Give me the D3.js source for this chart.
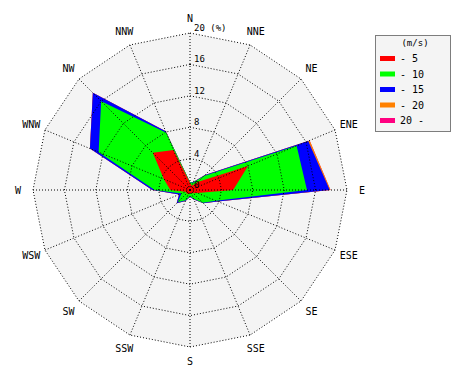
<!DOCTYPE html>
<html>
<head>
<meta charset="utf-8">
<script src="https://cdn.jsdelivr.net/npm/d3@7"></script>
<style>
  body { margin: 0; background: #fff; }
  svg { display: block; }
  text { font-family: "DejaVu Sans Mono", monospace; font-size: 10px; fill: #000; }
</style>
</head>
<body>
<svg id="rose" width="470" height="380"></svg>
<script>
// wind directions, clockwise from north
var directions = ["N", "NNE", "NE", "ENE", "E", "ESE", "SE", "SSE",
                  "S", "SSW", "SW", "WSW", "W", "WNW", "NW", "NNW"];

// frequency (%) per speed class and direction
var upTo5   = [0.9, 0.6, 1.5, 8.0, 5.5, 1.0, 0.6, 0.4, 0.4, 0.6, 0.6, 0.6, 2.5, 3.6, 6.7, 5.5];
var upTo10  = [0.1, 0.4, 1.0, 6.7, 9.4, 2.6, 1.7, 0.8, 0.4, 0.8, 1.6, 0.6, 2.0, 9.0, 9.3, 2.4];
var upTo15  = [0.0, 0.1, 0.2, 1.6, 2.9, 0.2, 0.1, 0.1, 0.1, 0.1, 0.2, 0.3, 0.3, 1.2, 1.5, 0.2];
var upTo20  = [0.0, 0.0, 0.0, 0.2, 0.1, 0.0, 0.0, 0.0, 0.0, 0.0, 0.0, 0.0, 0.0, 0.0, 0.0, 0.0];
var over20  = [0.0, 0.0, 0.0, 0.0, 0.0, 0.0, 0.0, 0.0, 0.0, 0.0, 0.0, 0.0, 0.0, 0.0, 0.0, 0.0];

var speedLabels = ["- 5", "- 10", "- 15", "- 20", "20 -"];
var speedColors = ["#ff0000", "#00ff00", "#0000ff", "#ff8000", "#ff0080"];
var ringTicks = [0, 4, 8, 12, 16, 20];

var cx = 190, cy = 190, outer = 157;
var svg = d3.select("#rose");
var g = svg.append("g").attr("transform", "translate(" + cx + "," + cy + ")");

var r = d3.scaleLinear().domain([0, 20]).range([0, outer]);
var angle = d3.scaleLinear().domain([0, directions.length]).range([0, 2 * Math.PI]);

function pt(i, v) {
    var a = angle(i);
    return [Math.sin(a) * r(v), -Math.cos(a) * r(v)];
}

// cumulative series: each class stacked on the slower ones
var series = [upTo5, upTo10, upTo15, upTo20, over20];
var cumulative = [];
series.forEach(function (s, k) {
    cumulative.push(s.map(function (v, i) {
        return k === 0 ? v : cumulative[k - 1][i] + v;
    }));
});

var ring = d3.lineRadial()
    .angle(function (d, i) { return angle(i); })
    .radius(function (d) { return r(d); })
    .curve(d3.curveLinearClosed);

// plot background
g.append("path")
    .attr("d", ring(directions.map(function () { return 20; })))
    .attr("fill", "#f4f4f4");

// data polygons, biggest first
for (var k = cumulative.length - 1; k >= 0; k--) {
    g.append("path")
        .attr("d", ring(cumulative[k]))
        .attr("fill", speedColors[k])
        .attr("stroke", "none");
}

// rings
ringTicks.slice(1).forEach(function (t) {
    g.append("path")
        .attr("d", ring(directions.map(function () { return t; })))
        .attr("fill", "none")
        .attr("stroke", "#000")
        .attr("stroke-width", 1)
        .attr("stroke-dasharray", "1,2");
});

// spokes
directions.forEach(function (d, i) {
    var p = pt(i, 20);
    g.append("line")
        .attr("x1", 0).attr("y1", 0)
        .attr("x2", p[0]).attr("y2", p[1])
        .attr("stroke", "#000")
        .attr("stroke-width", 1)
        .attr("stroke-dasharray", "1,2");
});

// ring labels
ringTicks.forEach(function (t) {
    g.append("text")
        .attr("x", 4)
        .attr("y", -r(t) - 2)
        .style("font-size", "9px")
        .text(t === 20 ? "20 (%)" : t);
});

// direction labels
directions.forEach(function (d, i) {
    var p = pt(i, 21.9);
    g.append("text")
        .attr("x", p[0])
        .attr("y", p[1])
        .attr("dy", "0.35em")
        .attr("text-anchor", "middle")
        .text(d);
});

// legend
var legend = svg.append("g").attr("transform", "translate(375,35)");
legend.append("rect")
    .attr("x", 0.5).attr("y", 0.5)
    .attr("width", 75).attr("height", 96)
    .attr("fill", "#f4f4f4")
    .attr("stroke", "#000")
    .attr("stroke-dasharray", "1,1");
legend.append("text")
    .attr("x", 40).attr("y", 11)
    .attr("text-anchor", "middle")
    .style("font-size", "9px")
    .text("(m/s)");
speedLabels.forEach(function (s, i) {
    var y = 23 + i * 15.5;
    legend.append("rect")
        .attr("x", 5).attr("y", y - 2)
        .attr("width", 15).attr("height", 5)
        .attr("fill", speedColors[i]);
    legend.append("text")
        .attr("x", 25).attr("y", y + 4)
        .text(s);
});
</script>
</body>
</html>
